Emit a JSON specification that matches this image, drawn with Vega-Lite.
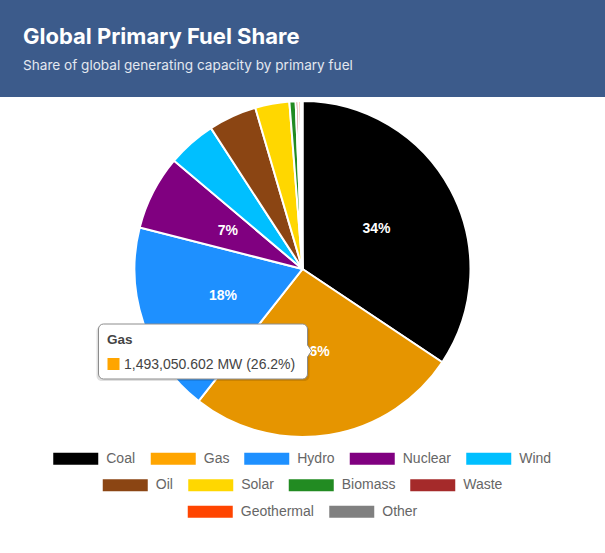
{
  "$schema": "https://vega.github.io/schema/vega-lite/v6.json",
  "padding": 0,
  "spacing": 0,
  "background": "white",
  "datasets": {
    "fuel": [
      {"fuel": "Coal", "capacity": 1955000},
      {"fuel": "Gas", "capacity": 1493050.602},
      {"fuel": "Hydro", "capacity": 1045000},
      {"fuel": "Nuclear", "capacity": 408000},
      {"fuel": "Wind", "capacity": 266000},
      {"fuel": "Oil", "capacity": 264000},
      {"fuel": "Solar", "capacity": 187000},
      {"fuel": "Biomass", "capacity": 34000},
      {"fuel": "Waste", "capacity": 14500},
      {"fuel": "Geothermal", "capacity": 12700},
      {"fuel": "Other", "capacity": 9800}
    ]
  },
  "config": {
    "view": {"stroke": null},
    "legend": {
      "layout": {"bottom": {"anchor": "middle", "direction": "vertical", "center": true, "margin": 7.5}}
    }
  },
  "vconcat": [
    {
      "width": 605,
      "height": 97,
      "view": {"fill": "#3c5b8b", "stroke": null},
      "data": {"values": [{"band": "header"}]},
      "mark": {"type": "rect", "fill": "#3c5b8b"},
      "encoding": {},
      "title": {
        "text": "Global Primary Fuel Share",
        "subtitle": "Share of global generating capacity by primary fuel",
        "anchor": "start",
        "frame": "group",
        "orient": "top",
        "offset": -74,
        "dx": 23,
        "font": "Inter",
        "fontSize": 22,
        "fontWeight": "bold",
        "color": "white",
        "subtitleFont": "Inter",
        "subtitleFontSize": 13.6,
        "subtitleColor": "#e3e8f0",
        "subtitlePadding": 10
      }
    },
    {
      "width": 605,
      "height": 342,
      "data": {"name": "fuel"},
      "layer": [
        {
          "mark": {"type": "arc", "outerRadius": 168, "stroke": "white", "strokeWidth": 2},
          "encoding": {
            "theta": {"field": "capacity", "type": "quantitative", "stack": true},
            "order": {"field": "capacity", "sort": "descending"},
            "color": {
              "field": "fuel",
              "type": "nominal",
              "legend": null,
              "scale": {
                "domain": ["Coal", "Gas", "Hydro", "Nuclear", "Wind", "Oil", "Solar", "Biomass", "Waste", "Geothermal", "Other"],
                "range": ["#000000", "#E69500", "#1E90FF", "#800080", "#00BFFF", "#8B4513", "#FFD700", "#228B22", "#A52A2A", "#FF4500", "#808080"]
              }
            }
          }
        },
        {
          "transform": [
            {"joinaggregate": [{"op": "sum", "field": "capacity", "as": "total"}]},
            {"calculate": "datum.capacity / datum.total", "as": "pct"}
          ],
          "mark": {"type": "text", "radius": 84, "font": "Liberation Sans", "fontSize": 14, "fontWeight": "bold", "fill": "white", "align": "center", "baseline": "middle"},
          "encoding": {
            "theta": {"field": "capacity", "type": "quantitative", "stack": true},
            "order": {"field": "capacity", "sort": "descending"},
            "text": {"field": "pct", "type": "quantitative", "format": ".0%"},
            "opacity": {"condition": {"test": "datum.pct >= 0.05", "value": 1}, "value": 0}
          }
        },
        {
          "transform": [{"filter": "indexof(['Coal','Gas','Hydro','Nuclear','Wind'], datum.fuel) >= 0"}],
          "mark": {"type": "point", "filled": true, "size": 0},
          "encoding": {
            "color": {
              "field": "fuel", "type": "nominal",
              "scale": {"domain": ["Coal", "Gas", "Hydro", "Nuclear", "Wind"], "range": ["#000000", "#FFA500", "#1E90FF", "#800080", "#00BFFF"]},
              "legend": {"orient": "bottom", "direction": "horizontal", "columns": 5, "title": null, "offset": 7,
                "symbolType": "M-2,-0.53H2V0.53H-2Z", "symbolSize": 506.25, "symbolOffset": 11.25, "symbolStrokeWidth": 0, "symbolOpacity": 1,
                "labelOffset": 19, "columnPadding": 14.5, "labelFont": "Liberation Sans", "labelFontSize": 14, "labelColor": "#666666"}
            }
          }
        },
        {
          "transform": [{"filter": "indexof(['Oil','Solar','Biomass','Waste'], datum.fuel) >= 0"}],
          "mark": {"type": "point", "filled": true, "size": 0},
          "encoding": {
            "color": {
              "field": "fuel", "type": "nominal",
              "scale": {"domain": ["Oil", "Solar", "Biomass", "Waste"], "range": ["#8B4513", "#FFD700", "#228B22", "#A52A2A"]},
              "legend": {"orient": "bottom", "direction": "horizontal", "columns": 4, "title": null, "offset": 7,
                "symbolType": "M-2,-0.53H2V0.53H-2Z", "symbolSize": 506.25, "symbolOffset": 11.25, "symbolStrokeWidth": 0, "symbolOpacity": 1,
                "labelOffset": 19, "columnPadding": 14.5, "labelFont": "Liberation Sans", "labelFontSize": 14, "labelColor": "#666666"}
            }
          }
        },
        {
          "transform": [{"filter": "indexof(['Geothermal','Other'], datum.fuel) >= 0"}],
          "mark": {"type": "point", "filled": true, "size": 0},
          "encoding": {
            "color": {
              "field": "fuel", "type": "nominal",
              "scale": {"domain": ["Geothermal", "Other"], "range": ["#FF4500", "#808080"]},
              "legend": {"orient": "bottom", "direction": "horizontal", "columns": 2, "title": null, "offset": 7,
                "symbolType": "M-2,-0.53H2V0.53H-2Z", "symbolSize": 506.25, "symbolOffset": 11.25, "symbolStrokeWidth": 0, "symbolOpacity": 1,
                "labelOffset": 19, "columnPadding": 14.5, "labelFont": "Liberation Sans", "labelFontSize": 14, "labelColor": "#666666"}
            }
          }
        },
        {
          "transform": [{"filter": "datum.fuel == 'Gas'"}],
          "mark": {"type": "point", "filled": true, "size": 4, "fill": "#000000", "opacity": 0.12, "strokeWidth": 0,
            "shape": "M-201,57H2A5,5 0 0 1 7,62V107A5,5 0 0 1 2,112H-201A5,5 0 0 1 -206,107V62A5,5 0 0 1 -201,57Z"},
          "encoding": {}
        },
        {
          "transform": [{"filter": "datum.fuel == 'Gas'"}],
          "mark": {"type": "point", "filled": true, "size": 4, "fill": "white", "stroke": "#8c8c8c", "strokeWidth": 1, "opacity": 1,
            "shape": "M-199,55H0A5,5 0 0 1 5,60V76L9,82L5,88V105A5,5 0 0 1 0,110H-199A5,5 0 0 1 -204,105V60A5,5 0 0 1 -199,55Z"},
          "encoding": {}
        },
        {
          "transform": [{"filter": "datum.fuel == 'Gas'"}],
          "mark": {"type": "point", "filled": true, "size": 4, "fill": "#FFA500", "strokeWidth": 0, "opacity": 1,
            "shape": "M-195,89H-183V101H-195Z"},
          "encoding": {}
        },
        {
          "transform": [{"filter": "datum.fuel == 'Gas'"}],
          "mark": {"type": "text", "align": "left", "baseline": "alphabetic", "dx": -195.5, "dy": 75, "font": "Liberation Sans", "fontSize": 13.5, "fontWeight": "bold", "fill": "#444444"},
          "encoding": {"text": {"field": "fuel"}}
        },
        {
          "transform": [
            {"joinaggregate": [{"op": "sum", "field": "capacity", "as": "total"}]},
            {"filter": "datum.fuel == 'Gas'"},
            {"calculate": "format(datum.capacity, ',.3f') + ' MW (' + format(datum.capacity / datum.total, '.1%') + ')'", "as": "label"}
          ],
          "mark": {"type": "text", "align": "left", "baseline": "alphabetic", "dx": -178.5, "dy": 100, "font": "Liberation Sans", "fontSize": 14, "fill": "#444444"},
          "encoding": {"text": {"field": "label"}}
        }
      ],
      "resolve": {"scale": {"color": "independent"}, "legend": {"color": "independent"}}
    }
  ]
}
